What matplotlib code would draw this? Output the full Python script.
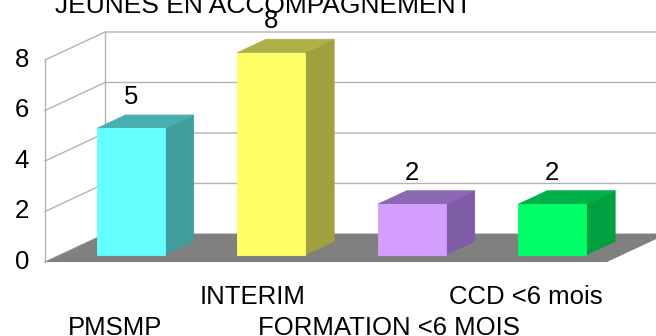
import matplotlib
matplotlib.use("Agg")
import matplotlib.pyplot as plt
from matplotlib.patches import Polygon

plt.rcParams['font.family'] = ['Liberation Sans', 'DejaVu Sans']

title = "JEUNES EN ACCOMPAGNEMENT"
categories = ["PMSMP", "INTERIM", "FORMATION <6 MOIS", "CCD <6 mois"]
values = [5, 8, 2, 2]
yticks = [0, 2, 4, 6, 8]
front_colors = ["#66FFFF", "#FFFF66", "#D49EFF", "#00FF66"]
top_colors = ["#4AAFAF", "#B0B048", "#8C68B4", "#00B048"]
side_colors = ["#409E9E", "#A0A03E", "#7E5CA6", "#00A040"]

fig = plt.figure(figsize=(6.56, 3.36), dpi=100)
ax = fig.add_axes([0, 0, 1, 1])
ax.set_xlim(-0.8203, 3.8488)
ax.set_ylim(-2.931, 10.376)
ax.axis('off')

n = len(categories)
ymax = max(yticks)
DX, DY = 0.427, 1.109     # full depth of the 3D box in data units
grid_c = "#B3B3B3"

# back wall
ax.add_patch(Polygon([(-0.5 + DX, DY), (n - 0.5 + DX, DY), (n - 0.5 + DX, DY + ymax),
                      (-0.5 + DX, DY + ymax)], closed=True, fc="white", ec="none", zorder=1))
for v in yticks:
    ax.plot([-0.5, -0.5 + DX, n - 0.5 + DX], [v, v + DY, v + DY], color=grid_c, lw=1, zorder=2)
ax.plot([-0.5, -0.5], [0, ymax], color=grid_c, lw=1, zorder=2)
ax.plot([-0.5 + DX, -0.5 + DX], [DY, DY + ymax], color=grid_c, lw=1, zorder=2)

# floor
ax.add_patch(Polygon([(-0.5, 0), (n - 0.5, 0), (n - 0.5 + DX, DY), (-0.5 + DX, DY)],
                     closed=True, fc="#808080", ec="none", zorder=3))

# bars
w = 0.484
f0 = 0.26
bd = 0.48
ddx, ddy = bd * DX, bd * DY
for i, (v, fc, tc, sc) in enumerate(zip(values, front_colors, top_colors, side_colors)):
    x0 = i - w / 2 + f0 * DX
    y0 = f0 * DY
    side = [(x0 + w, y0), (x0 + w + ddx, y0 + ddy), (x0 + w + ddx, y0 + ddy + v), (x0 + w, y0 + v)]
    top = [(x0, y0 + v), (x0 + w, y0 + v), (x0 + w + ddx, y0 + v + ddy), (x0 + ddx, y0 + v + ddy)]
    front = [(x0, y0), (x0 + w, y0), (x0 + w, y0 + v), (x0, y0 + v)]
    ax.add_patch(Polygon(side, closed=True, fc=sc, ec=sc, lw=0.6, zorder=4))
    ax.add_patch(Polygon(top, closed=True, fc=tc, ec=tc, lw=0.6, zorder=4))
    ax.add_patch(Polygon(front, closed=True, fc=fc, ec=fc, lw=0.6, zorder=5))
    ax.text(x0 + w / 2, y0 + v + ddy + 0.72, str(v), ha='center', va='center',
            fontsize=18.5, color='black', zorder=6)

# y tick labels
for v in yticks:
    ax.text(-0.614, v, str(v), ha='right', va='center', fontsize=18.5, color='black')

# category labels (staggered)
for i, c in enumerate(categories):
    yl = -2.6 if i % 2 == 0 else -1.37
    ax.text(i - 0.025 * i, yl, c, ha='center', va='center', fontsize=18.5, color='black')

fig.text(263 / 656, 1 - 13 / 336, title, ha='center', va='baseline', fontsize=19, color='black')

fig.savefig("out.png", dpi=100)
